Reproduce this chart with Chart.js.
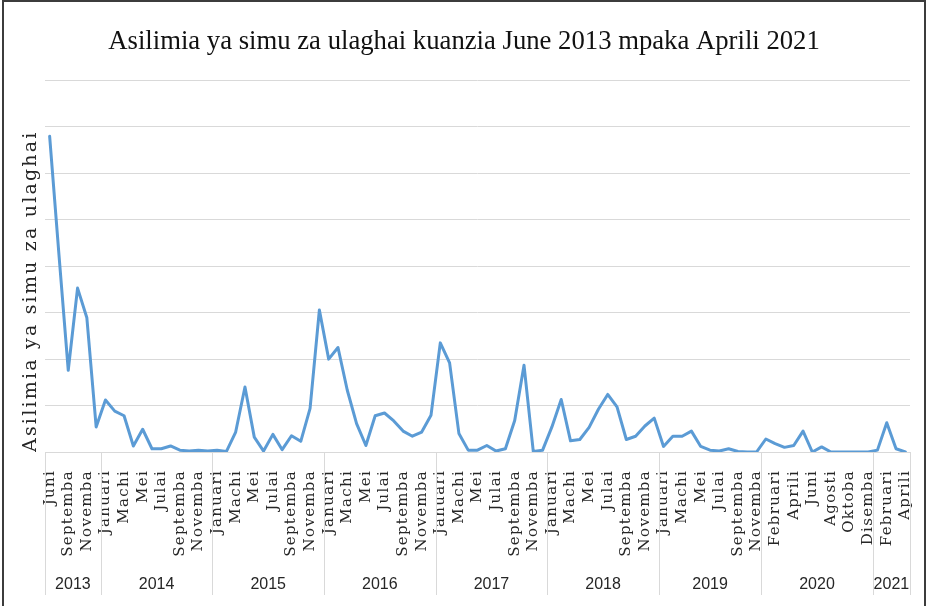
<!DOCTYPE html>
<html><head><meta charset="utf-8">
<script src="https://cdn.jsdelivr.net/npm/chart.js@4"></script>
<style>
html,body{margin:0;padding:0;background:#fff;}
#wrap{position:relative;width:927px;height:606px;overflow:hidden;}
#frame{position:absolute;left:2px;top:0px;width:924px;height:612px;border:2px solid #3c3c3c;box-sizing:border-box;pointer-events:none;}
canvas{position:absolute;left:0;top:0;}
</style></head><body>
<div id="wrap"><canvas id="c" width="927" height="606"></canvas><div id="frame"></div></div>
<script>
const categories = [
  'Juni','Julai','Septemba','Oktoba','Novemba','Disemba',
  'Januari','Februari','Machi','Aprili','Mei','Juni','Julai','Agosti','Septemba','Oktoba','Novemba','Disemba',
  'Januari','Februari','Machi','Aprili','Mei','Juni','Julai','Agosti','Septemba','Oktoba','Novemba','Disemba',
  'Januari','Februari','Machi','Aprili','Mei','Juni','Julai','Agosti','Septemba','Oktoba','Novemba','Disemba',
  'Januari','Februari','Machi','Aprili','Mei','Juni','Julai','Agosti','Septemba','Oktoba','Novemba','Disemba',
  'Januari','Februari','Machi','Aprili','Mei','Juni','Julai','Agosti','Septemba','Oktoba','Novemba','Disemba',
  'Januari','Februari','Machi','Aprili','Mei','Juni','Julai','Agosti','Septemba','Oktoba','Novemba',
  'Januari','Februari','Machi','Aprili','Mei','Juni','Julai','Agosti','Septemba','Oktoba','Novemba','Disemba',
  'Januari','Februari','Machi','Aprili'
];
const years = ['2013','2014','2015','2016','2017','2018','2019','2020','2021'];
const yearCounts = [6,12,12,12,12,12,11,12,4];
const values = [
  68.0, 42.5, 17.6, 35.3, 28.9, 5.4,
  11.2, 8.8, 7.8, 1.3, 4.9, 0.7, 0.7, 1.3, 0.4, 0.2, 0.4, 0.2,
  0.4, 0.1, 4.3, 14.0, 3.2, 0.2, 3.8, 0.5, 3.5, 2.3, 9.4, 30.6,
  20.0, 22.5, 13.3, 6.1, 1.4, 7.8, 8.4, 6.7, 4.5, 3.4, 4.3, 7.9,
  23.5, 19.2, 4.0, 0.4, 0.4, 1.4, 0.2, 0.7, 6.8, 18.7, 0.1, 0.4,
  5.4, 11.3, 2.4, 2.7, 5.3, 9.2, 12.4, 9.7, 2.7, 3.4, 5.6, 7.3,
  1.2, 3.4, 3.4, 4.5, 1.2, 0.4, 0.2, 0.7, 0.1, 0, 0,
  2.8, 1.8, 1.0, 1.4, 4.5, 0, 1.1, 0, 0, 0, 0, 0,
  0.4, 6.3, 0.7, 0
];
const yTicks = {min: 0, max: 80, step: 10};

const AXIS_H = 143;
const yearPlugin = {
  id: 'yearRow',
  afterDraw(chart) {
    const {ctx, chartArea, scales: {x}} = chart;
    const top = chartArea.bottom, bottom = chartArea.bottom + AXIS_H;
    ctx.save();
    ctx.strokeStyle = '#d9d9d9';
    ctx.lineWidth = 1;
    ctx.fillStyle = '#262626';
    ctx.font = '16px "Liberation Sans"';
    ctx.textAlign = 'center';
    ctx.textBaseline = 'middle';
    let start = 0;
    yearCounts.forEach((n, k) => {
      const end = start + n - 1;
      const left = start === 0 ? chartArea.left : (x.getPixelForValue(start - 1) + x.getPixelForValue(start)) / 2;
      const right = end === categories.length - 1 ? chartArea.right : (x.getPixelForValue(end) + x.getPixelForValue(end + 1)) / 2;
      ctx.beginPath();
      ctx.moveTo(Math.round(left) + 0.5, top);
      ctx.lineTo(Math.round(left) + 0.5, bottom);
      if (k === yearCounts.length - 1) {
        ctx.moveTo(Math.round(right) + 0.5, top);
        ctx.lineTo(Math.round(right) + 0.5, bottom);
      }
      ctx.stroke();
      ctx.fillText(years[k], (left + right) / 2, bottom - 10);
      start += n;
    });
    ctx.restore();
  }
};

// widen letter spacing of axis texts (the reference uses loosely spaced text)
function withSpacing(fn, spacing) {
  return function (...args) {
    const c = this.ctx;
    const prev = c.letterSpacing;
    c.letterSpacing = spacing;
    const r = fn.apply(this, args);
    c.letterSpacing = prev;
    return r;
  };
}
const spacingPlugin = {
  id: 'spacing',
  afterLayout(chart) {
    const {x, y} = chart.scales;
    if (!x._spaced) { x.drawLabels = withSpacing(x.drawLabels, '1.3px'); x._spaced = true; }
    if (!y._spaced) { y.drawTitle = withSpacing(y.drawTitle, '2.2px'); y._spaced = true; }
  }
};

new Chart(document.getElementById('c'), {
  type: 'line',
  data: {
    labels: categories,
    datasets: [{
      data: values,
      borderColor: '#5b9bd5',
      borderWidth: 3,
      pointRadius: 0,
      tension: 0,
      fill: false,
      borderJoinStyle: 'round',
      borderCapStyle: 'round'
    }]
  },
  options: {
    responsive: false,
    animation: false,
    layout: {padding: {left: 18, right: 17, top: 0, bottom: 11}},
    plugins: {
      legend: {display: false},
      tooltip: {enabled: false},
      title: {
        display: true,
        text: 'Asilimia ya simu za ulaghai kuanzia June 2013 mpaka Aprili 2021',
        font: {family: 'Liberation Serif', size: 26.7, weight: 'normal'},
        color: '#111',
        padding: {top: 26, bottom: 22.5}
      }
    },
    scales: {
      x: {
        type: 'category',
        offset: true,
        grid: {display: false},
        border: {display: false},
        ticks: {
          autoSkip: false, maxRotation: 90, minRotation: 90, padding: 10,
          font: {family: 'DejaVu Serif', size: 15}, color: '#262626',
          callback: function (v, i) { return i % 2 === 0 ? this.getLabelForValue(v) : ''; }
        },
        afterFit: (s) => { s.height = AXIS_H; s.paddingLeft = 0; s.paddingRight = 0; }
      },
      y: {
        min: yTicks.min, max: yTicks.max,
        ticks: {display: false, stepSize: yTicks.step},
        grid: {color: '#d9d9d9', lineWidth: 1, drawTicks: false},
        border: {display: false},
        title: {
          display: true, text: 'Asilimia ya simu za ulaghai', align: 'start',
          font: {family: 'DejaVu Serif', size: 19}, color: '#262626',
          padding: {top: 1.5, bottom: 0}
        },
        afterFit: (s) => { s.width = 27; s.paddingTop = 0; s.paddingBottom = 0; }
      }
    }
  },
  plugins: [spacingPlugin, yearPlugin]
});
</script>
</body></html>
